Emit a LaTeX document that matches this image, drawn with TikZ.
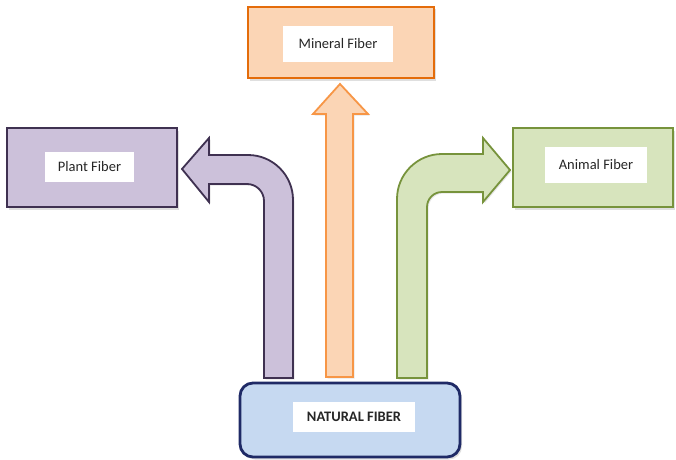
\documentclass[tikz,border=0pt]{standalone}
\usepackage{fontspec}
\setmainfont{Carlito}
\usetikzlibrary{shadows}
\definecolor{minFill}{HTML}{FBD5B5}
\definecolor{minLine}{HTML}{E46C0A}
\definecolor{minArrowLine}{HTML}{F79646}
\definecolor{plaFill}{HTML}{CCC1DA}
\definecolor{plaLine}{HTML}{3F3151}
\definecolor{aniFill}{HTML}{D7E4BD}
\definecolor{aniLine}{HTML}{77933C}
\definecolor{natFill}{HTML}{C6D9F1}
\definecolor{natLine}{HTML}{1F2A66}
\begin{document}
\begin{tikzpicture}[x=1pt,y=1pt,
  fiberbox/.style={draw, line width=2.8pt, minimum width=#1, inner sep=0pt,
    drop shadow={opacity=0.25, shadow xshift=2pt, shadow yshift=-2.5pt}},
  labelbox/.style={fill=white, inner sep=0pt, text=black!85,
    font=\fontsize{14.5}{16}\selectfont},
  blockarrow/.style={line width=1.8pt, line join=miter,
    drop shadow={opacity=0.2, shadow xshift=1.5pt, shadow yshift=-1.5pt}}]
\useasboundingbox (0,0) rectangle (676,459);

% block arrows rising from the base box
\draw[blockarrow, fill=plaFill, draw=plaLine]
  (264,81) -- (293,81) -- (293,259) arc[start angle=0, end angle=90, radius=45pt]
  -- (209,304) -- (209,321) -- (182,290) -- (209,257) -- (209,275) -- (247,275)
  arc[start angle=90, end angle=0, radius=17pt] -- cycle;
\draw[blockarrow, fill=minFill, draw=minArrowLine]
  (326,82) -- (353,82) -- (353,345) -- (368,345) -- (340,375) -- (313,345)
  -- (326,345) -- cycle;
\draw[blockarrow, fill=aniFill, draw=aniLine]
  (397,81) -- (427,81) -- (427,252) arc[start angle=180, end angle=90, radius=15pt]
  -- (483,267) -- (483,257) -- (510,289) -- (483,321) -- (483,305) -- (442,305)
  arc[start angle=90, end angle=180, radius=45pt] -- cycle;

% category boxes
\node[fiberbox=186pt, minimum height=71pt, fill=minFill, draw=minLine]
  (mineral) at (341,416.5) {};
\node[fiberbox=170pt, minimum height=79pt, fill=plaFill, draw=plaLine]
  (plant) at (92,291.5) {};
\node[fiberbox=160pt, minimum height=79pt, fill=aniFill, draw=aniLine]
  (animal) at (593,291.5) {};
\node[fiberbox=220pt, minimum height=74pt, fill=natFill, draw=natLine,
  rounded corners=13pt] (natural) at (350,39) {};

% white text panels
\node[labelbox, minimum width=110pt, minimum height=36pt] (mineralLabel)
  at (338,415) {Mineral Fiber\hspace{5pt}};
\node[labelbox, minimum width=89pt, minimum height=30pt] (plantLabel)
  at (89.5,292) {Plant Fiber\hspace{5pt}};
\node[labelbox, minimum width=102pt, minimum height=36pt] (animalLabel)
  at (596,294) {Animal Fiber\hspace{6pt}};
\node[labelbox, minimum width=122pt, minimum height=30pt,
  font=\fontsize{14.5}{16}\selectfont\bfseries]
  (naturalLabel) at (354,42) {NATURAL FIBER\hspace{4pt}};
\end{tikzpicture}
\end{document}
